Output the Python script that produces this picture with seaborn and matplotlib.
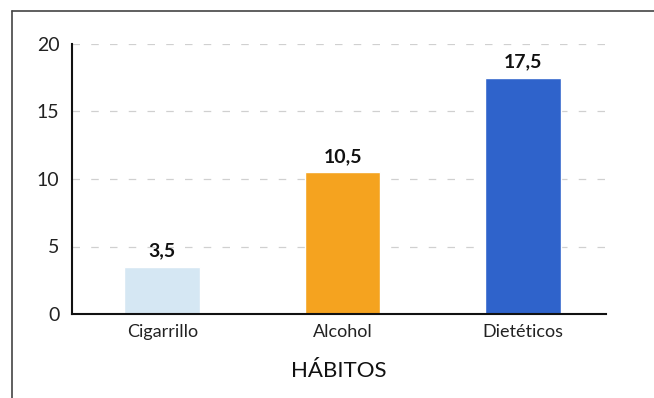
import matplotlib
matplotlib.use("Agg")
import matplotlib.pyplot as plt
import seaborn as sns
import pandas as pd
from matplotlib.lines import Line2D

# Data
habitos = ["Cigarrillo", "Alcohol", "Dietéticos"]
valores = [3.5, 10.5, 17.5]
etiquetas = ["3,5", "10,5", "17,5"]
colores = ["#d5e7f3", "#f5a31f", "#2f63cb"]
yticks = [0, 5, 10, 15, 20]

df = pd.DataFrame({"habito": habitos, "valor": valores})

sns.set_style("white")
plt.rcParams["font.family"] = ["Lato", "DejaVu Sans"]

fig = plt.figure(figsize=(6.54, 3.98), dpi=100)
ax = fig.add_axes([72 / 654, 1 - 314 / 398, (606 - 72) / 654, (314 - 44) / 398])

sns.barplot(
    data=df,
    x="habito",
    y="valor",
    hue="habito",
    palette=colores,
    width=0.42,
    legend=False,
    saturation=1,
    ax=ax,
)

# Value labels above bars
for i, (v, lab) in enumerate(zip(valores, etiquetas)):
    ax.text(i, v + 0.55, lab, ha="center", va="bottom", fontsize=14, fontweight="bold", color="#111111")

ax.set_ylim(0, 20)
ax.set_xlim(-0.5, 2.46)
ax.set_yticks(yticks)
ax.set_yticklabels([str(t) for t in yticks], fontsize=14, color="#222222")
ax.tick_params(axis="y", length=6, color="#cccccc", width=0.8, pad=3)
ax.tick_params(axis="x", which="major", length=0, labelsize=13, pad=7, labelcolor="#222222")
ax.set_xticks([0.5, 1.5, 2.46], minor=True)
ax.tick_params(axis="x", which="minor", length=6, width=1.5, color="#111111", direction="out")

# Dashed grid lines
for t in yticks[1:]:
    ax.axhline(t, color="#d0d0d0", linestyle=(0, (6, 9)), linewidth=0.9, zorder=0)
ax.set_axisbelow(True)

for side in ["top", "right"]:
    ax.spines[side].set_visible(False)
for side in ["left", "bottom"]:
    ax.spines[side].set_color("#111111")
    ax.spines[side].set_linewidth(1.5)

ax.set_ylabel("")
ax.set_xlabel("HÁBITOS", fontsize=16, labelpad=15, color="#111111")

# Outer frame (left and top edges only)
fig.add_artist(Line2D([12 / 654, 12 / 654], [0, 1 - 11 / 398], transform=fig.transFigure, color="#444444", linewidth=1.2))
fig.add_artist(Line2D([12 / 654, 1], [1 - 11 / 398, 1 - 11 / 398], transform=fig.transFigure, color="#444444", linewidth=1.2))

fig.savefig("out.png", dpi=100)
